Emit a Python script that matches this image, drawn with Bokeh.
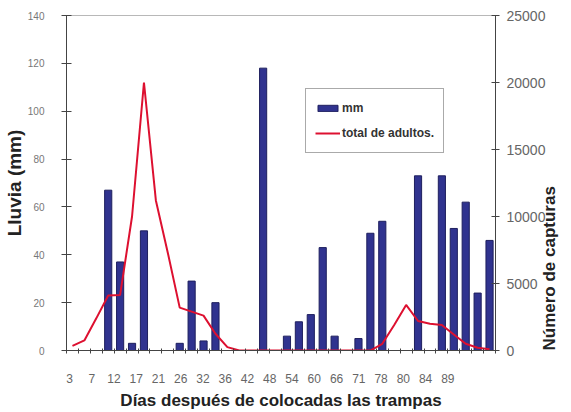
import math
import numpy as np
from bokeh.plotting import figure
from bokeh.models import (Range1d, LinearAxis, FixedTicker, Legend, LegendItem,
                          ColumnDataSource, AllLabels)
from bokeh.embed import file_html
from bokeh.resources import INLINE

# ---- data ----
day_labels = ["3", "7", "12", "17", "21", "26", "32", "36", "42", "48",
              "54", "60", "66", "71", "78", "80", "84", "89"]
category_index = list(range(36))
lluvia_mm = [0, 0, 0, 67, 37, 3, 50, 0, 0, 3, 29, 4, 20, 0, 0, 0, 118, 0,
             6, 12, 15, 43, 6, 0, 5, 49, 54, 0, 0, 73, 0, 73, 51, 62, 24, 46]
total_adultos = [350, 750, 2400, 4100, 4150, 10000, 20000, 11200, 7300, 3200,
                 2900, 2600, 1250, 250, 0, 0, 0, 0, 0, 0, 0, 0, 0, 0, 0, 0,
                 500, 1900, 3400, 2200, 2000, 1900, 1200, 500, 200, 100]
left_ticks = [0, 20, 40, 60, 80, 100, 120, 140]
right_ticks = [0, 5000, 10000, 15000, 20000, 25000]

src = ColumnDataSource(dict(x=category_index, mm=lluvia_mm, adultos=total_adultos))

n = len(category_index)
p = figure(width=571, height=412, output_backend="svg", toolbar_location=None,
           x_range=Range1d(-0.5, n - 0.5), y_range=Range1d(0, 140),
           min_border_left=64, min_border_right=74, min_border_top=15,
           min_border_bottom=62, background_fill_color="white")
p.outline_line_color = "#b8b8b8"
p.grid.visible = False
p.extra_y_ranges = {"cap": Range1d(0, 25000)}

bars = p.vbar(x="x", top="mm", width=0.6, source=src,
              fill_color="#30338f", line_color="#1e1f5e", line_width=1)
line = p.line(x="x", y="adultos", source=src, y_range_name="cap",
              line_color="#dd1030", line_width=2)

# x axis: tick marks at category boundaries, labels placed as in the picture
label_pos = [round(float(v), 3) for v in np.linspace(-0.25, 31.5, len(day_labels))]
bounds = [i - 0.5 for i in range(n + 1)]
xa = p.xaxis[0]
xa.ticker = FixedTicker(ticks=label_pos, minor_ticks=bounds)
xa.major_label_overrides = {pos: lab for pos, lab in zip(label_pos, day_labels)}
xa.major_label_policy = AllLabels()
xa.major_tick_in = 0
xa.major_tick_out = 0
xa.minor_tick_in = 2
xa.minor_tick_out = 3
xa.minor_tick_line_color = "#444444"
xa.axis_line_color = "#444444"
xa.major_label_standoff = 20
xa.major_label_text_font = "Liberation Sans"
xa.major_label_text_font_size = "12px"
xa.major_label_text_color = "#666666"
xa.axis_label = "Días después de colocadas las trampas"
xa.axis_label_text_font = "Liberation Sans"
xa.axis_label_text_font_size = "17px"
xa.axis_label_text_font_style = "bold"
xa.axis_label_text_color = "#222222"
xa.axis_label_standoff = 5

ya = p.yaxis[0]
ya.ticker = FixedTicker(ticks=left_ticks)
ya.minor_tick_line_color = None
ya.major_tick_in = 5
ya.major_tick_out = 5
ya.major_tick_line_color = "#444444"
ya.axis_line_color = "#444444"
ya.major_label_standoff = 17
ya.major_label_text_font = "Liberation Sans"
ya.major_label_text_font_size = "10px"
ya.major_label_text_color = "#777777"
ya.axis_label = "Lluvia (mm)"
ya.axis_label_text_font = "Liberation Sans"
ya.axis_label_text_font_size = "19px"
ya.axis_label_text_font_style = "bold"
ya.axis_label_text_color = "#222222"
ya.axis_label_standoff = 0

ra = LinearAxis(y_range_name="cap", ticker=FixedTicker(ticks=right_ticks))
ra.minor_tick_line_color = None
ra.major_tick_in = 4
ra.major_tick_out = 4
ra.major_tick_line_color = "#444444"
ra.axis_line_color = "#444444"
ra.major_label_standoff = 7
ra.major_label_text_font = "Liberation Sans"
ra.major_label_text_font_size = "14px"
ra.major_label_text_color = "#666666"
ra.axis_label = "Número de capturas"
ra.axis_label_text_font = "Liberation Sans"
ra.axis_label_text_font_size = "17px"
ra.axis_label_text_font_style = "bold"
ra.axis_label_text_color = "#222222"
ra.axis_label_standoff = 1
if hasattr(ra, "axis_label_orientation"):
    ra.axis_label_orientation = math.pi / 2   # read bottom-to-top
if hasattr(ra, "axis_label_align"):
    ra.axis_label_align = "start"
p.add_layout(ra, "right")

legend = Legend(items=[LegendItem(label="mm", renderers=[bars]),
                       LegendItem(label="total de adultos.", renderers=[line])],
                location=(239, 197))
legend.glyph_width = 25
legend.glyph_height = 8
legend.label_height = 20
legend.spacing = 5
legend.padding = 9
legend.margin = 0
legend.label_standoff = 2
legend.label_text_font = "Liberation Sans"
legend.label_text_font_size = "12px"
legend.label_text_font_style = "bold"
legend.label_text_color = "#333333"
legend.border_line_color = "#555555"
legend.border_line_width = 1
legend.background_fill_color = "white"
p.add_layout(legend)

open("out.html", "w").write(file_html(p, INLINE))
